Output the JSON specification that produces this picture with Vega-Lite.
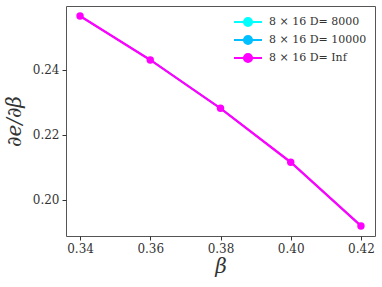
{
  "$schema": "https://vega.github.io/schema/vega-lite/v6.json",
  "width": 309,
  "height": 230,
  "autosize": {"type": "none"},
  "padding": {"left": 66, "top": 6, "right": 7, "bottom": 51},
  "background": "white",
  "config": {
    "view": {"stroke": "#555", "strokeWidth": 1},
    "font": "DejaVu Serif",
    "axis": {
      "grid": false,
      "domain": false,
      "tickColor": "#333",
      "tickSize": 4,
      "labelFont": "DejaVu Serif",
      "labelFontSize": 12,
      "labelColor": "#333",
      "titleFont": "DejaVu Serif",
      "titleFontStyle": "italic",
      "titleFontWeight": "normal",
      "titleFontSize": 20,
      "titleColor": "#333"
    }
  },
  "data": {
    "values": [
      {"beta": 0.34, "dedb": 0.2566, "series": "8 × 16 D= 8000"},
      {"beta": 0.36, "dedb": 0.2431, "series": "8 × 16 D= 8000"},
      {"beta": 0.38, "dedb": 0.2282, "series": "8 × 16 D= 8000"},
      {"beta": 0.40, "dedb": 0.2116, "series": "8 × 16 D= 8000"},
      {"beta": 0.42, "dedb": 0.1920, "series": "8 × 16 D= 8000"},
      {"beta": 0.34, "dedb": 0.2566, "series": "8 × 16 D= 10000"},
      {"beta": 0.36, "dedb": 0.2431, "series": "8 × 16 D= 10000"},
      {"beta": 0.38, "dedb": 0.2282, "series": "8 × 16 D= 10000"},
      {"beta": 0.40, "dedb": 0.2116, "series": "8 × 16 D= 10000"},
      {"beta": 0.42, "dedb": 0.1920, "series": "8 × 16 D= 10000"},
      {"beta": 0.34, "dedb": 0.2566, "series": "8 × 16 D= Inf"},
      {"beta": 0.36, "dedb": 0.2431, "series": "8 × 16 D= Inf"},
      {"beta": 0.38, "dedb": 0.2282, "series": "8 × 16 D= Inf"},
      {"beta": 0.40, "dedb": 0.2116, "series": "8 × 16 D= Inf"},
      {"beta": 0.42, "dedb": 0.1920, "series": "8 × 16 D= Inf"}
    ]
  },
  "encoding": {
    "x": {
      "field": "beta", "type": "quantitative", "title": "β",
      "scale": {"domain": [0.336, 0.424], "nice": false, "zero": false},
      "axis": {"values": [0.34, 0.36, 0.38, 0.40, 0.42], "format": ".2f", "labelPadding": 3, "titlePadding": 2}
    },
    "y": {
      "field": "dedb", "type": "quantitative", "title": "∂e/∂β",
      "scale": {"domain": [0.1889, 0.2597], "nice": false, "zero": false},
      "axis": {"values": [0.20, 0.22, 0.24], "format": ".2f", "labelPadding": 3, "titlePadding": 8}
    },
    "color": {
      "field": "series", "type": "nominal",
      "scale": {"domain": ["8 × 16 D= 8000", "8 × 16 D= 10000", "8 × 16 D= Inf"], "range": ["#00FFFF", "#00BFFF", "#FF00FF"]},
      "legend": {
        "title": null,
        "orient": "none",
        "legendX": 174,
        "legendY": 8,
        "symbolType": "M-2,0L-0.58,0M0.58,0L2,0M-0.58,0A0.58,0.58 0 1,1 0.58,0A0.58,0.58 0 1,1 -0.58,0Z",
        "symbolSize": 196,
        "symbolStrokeWidth": 2,
        "symbolOpacity": 1,
        "labelFont": "DejaVu Serif",
        "labelFontSize": 11,
        "labelColor": "#333",
        "labelOffset": 13,
        "rowPadding": 0
      }
    }
  },
  "layer": [
    {"transform": [{"filter": "datum.series !== '8 × 16 D= Inf'"}], "mark": {"type": "line", "strokeWidth": 1.5}},
    {"transform": [{"filter": "datum.series === '8 × 16 D= Inf'"}], "mark": {"type": "line", "strokeWidth": 2.3}},
    {"transform": [{"filter": "datum.series === '8 × 16 D= Inf'"}], "mark": {"type": "point", "filled": true, "size": 55, "opacity": 1}}
  ]
}
